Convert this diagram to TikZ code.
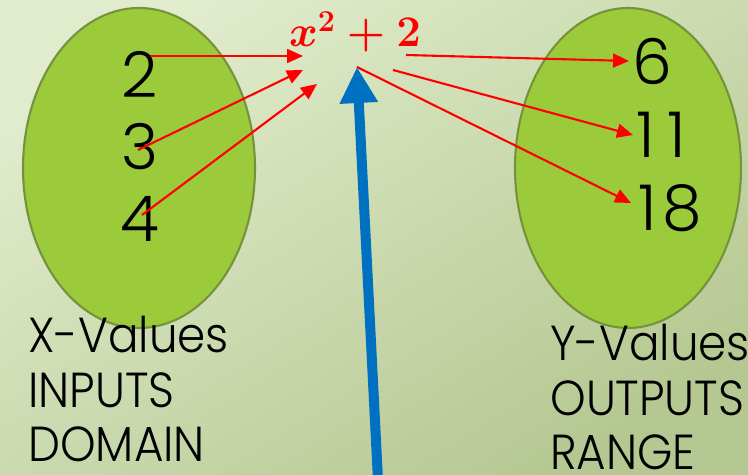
\documentclass[tikz,border=0pt]{standalone}
\usepackage{fontspec}
\setmainfont{Poppins}[UprightFont={* Light}]
\newfontfamily\labelfont{Poppins}[UprightFont={* Light}, FakeStretch=0.92]
\usetikzlibrary{arrows.meta,calc}
\tikzset{
  numtext/.style = {font = \fontsize{36}{40}\selectfont, text = black, inner sep = 2pt},
  labeltext/.style = {font = \labelfont\fontsize{28}{31}\selectfont, text = black, align = left, anchor = north west, inner sep = 0pt, text depth = 0pt},
  formulatext/.style = {font = \fontsize{23}{25}\selectfont\boldmath, text = red, inner sep = 2pt},
  redarrow/.style = {draw = red, line width = 1.2pt, -{Triangle[length = 0.32cm, width = 0.28cm]}},
  bluearrow/.style = {draw = bluearrowcolor, line width = 5.7pt, -{Triangle[length = 0.72cm, width = 0.72cm]}}
}
\begin{document}
\begin{tikzpicture}[x = 0.02cm, y = -0.02cm]
\definecolor{bgul}{HTML}{E0ECCC}
\definecolor{bglr}{HTML}{B6C892}
\shade [left color = bgul, right color = bglr, shading angle = 32] (0,0) rectangle (748,475);
\useasboundingbox (0,0) rectangle (748,475);
\definecolor{blobgreen}{HTML}{9BCB3B}
\definecolor{blobedge}{HTML}{76923C}
\definecolor{bluearrowcolor}{HTML}{0070C0}
\draw [fill = blobgreen, draw = blobedge, line width = 1.2pt] (139,168) ellipse [x radius = 116, y radius = 160];
\draw [fill = blobgreen, draw = blobedge, line width = 1.2pt] (628,168) ellipse [x radius = 113, y radius = 160];
\node [numtext] (in2) at (140,74) {2};
\node [numtext] (in3) at (140,147) {3};
\node [numtext] (in4) at (140,219) {4};
\node [numtext, anchor = west] (out6) at (629,61) {6};
\node [numtext, anchor = west] (out11) at (633,135) {1\kern7pt1};
\node [numtext, anchor = west] (out18) at (635,208) {1\kern3pt8};
\node [formulatext] (formula) at (355,32) {$x^2+2$};
\node [labeltext] (xlab) at (28,316) {X-Values\\INPUTS\\DOMAIN};
\node [labeltext] (ylab) at (550,324) {Y-Values\\OUTPUTS\\RANGE};
\draw [redarrow] ($(in2)+(10,-18)$) -- ($(formula.center)+(-52,24)$);
\draw [redarrow] ($(in3)+(-2,3)$) -- ($(formula.center)+(-52,38)$);
\draw [redarrow] ($(in4)+(2,-4)$) -- ($(formula.center)+(-38,52)$);
\draw [redarrow] ($(formula.center)+(51,23)$) -- (out6.west);
\draw [redarrow] ($(formula.center)+(38,38)$) -- (out11.west);
\draw [redarrow] ($(formula.center)+(2,35)$) -- ($(out18.west)+(-4,-5)$);
\coordinate (bluefoot) at (378,480);
\draw [bluearrow] (bluefoot) -- ($(formula.center)+(2,35)$);
\end{tikzpicture}
\end{document}
